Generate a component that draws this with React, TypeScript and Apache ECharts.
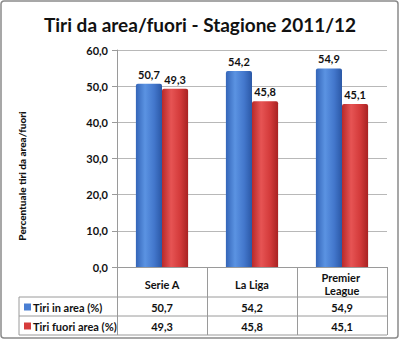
import React, { useEffect, useRef } from "react";
import * as echarts from "echarts";

const title = "Tiri da area/fuori - Stagione 2011/12";
const yAxisTitle = "Percentuale tiri da area/fuori";
const categories = ["Serie A", "La Liga", "Premier League"];
const seriesNames = ["Tiri in area (%)", "Tiri fuori area (%)"];
const inArea = [50.7, 54.2, 54.9];
const fuoriArea = [49.3, 45.8, 45.1];
const yTicks = { min: 0, max: 60, interval: 10 };

const FONT = "Lato";
const fmt = (v: number) => v.toFixed(1).replace(".", ",");

const GRID_L = 117;
const GRID_R = 387;
const GRID_T = 50;
const GRID_B = 267;
const ROW1 = 297;
const ROW2 = 316;
const ROW3 = 335;
const TABLE_L = 19;

const blueGrad = new echarts.graphic.LinearGradient(0, 0, 1, 0, [
  { offset: 0, color: "#3465b8" },
  { offset: 0.35, color: "#5b93e2" },
  { offset: 0.7, color: "#4377cc" },
  { offset: 1, color: "#2b58a6" },
]);
const redGrad = new echarts.graphic.LinearGradient(0, 0, 1, 0, [
  { offset: 0, color: "#b82a2a" },
  { offset: 0.35, color: "#e65454" },
  { offset: 0.7, color: "#d33a3a" },
  { offset: 1, color: "#a82222" },
]);
const solid = ["#4a7fd3", "#d63c3c"];

export default function App() {
  const ref = useRef<HTMLDivElement>(null);
  useEffect(() => {
    document.body.style.margin = "0";
    const chart = echarts.init(ref.current!, null, { renderer: "svg" });
    const labelStyle = {
      show: true,
      position: "top" as const,
      distance: 4,
      fontFamily: FONT,
      fontWeight: "bold" as const,
      fontSize: 11,
      color: "#111",
      formatter: (p: any) => fmt(p.value),
    };
    chart.setOption({
      animation: false,
      backgroundColor: "#fff",
      title: {
        text: title,
        left: "center",
        top: 10,
        textStyle: { fontFamily: FONT, fontWeight: "bold", fontSize: 19, color: "#111" },
      },
      grid: { left: GRID_L, right: 400 - GRID_R, top: GRID_T, bottom: 340 - GRID_B, containLabel: false },
      xAxis: {
        type: "category",
        data: categories,
        axisLine: { lineStyle: { color: "#9a9a9a", width: 1 } },
        axisTick: { show: true, length: ROW3 - GRID_B, lineStyle: { color: "#9a9a9a" } },
        axisLabel: {
          interval: 0,
          margin: 17,
          verticalAlign: "middle",
          width: 70,
          overflow: "break",
          lineHeight: 12.5,
          fontFamily: FONT,
          fontWeight: "bold",
          fontSize: 11,
          color: "#111",
        },
      },
      yAxis: {
        type: "value",
        min: yTicks.min,
        max: yTicks.max,
        interval: yTicks.interval,
        axisLine: { show: true, lineStyle: { color: "#9a9a9a" } },
        axisTick: { show: true, inside: false, length: 5, lineStyle: { color: "#9a9a9a" } },
        axisLabel: {
          margin: 9,
          fontFamily: FONT,
          fontWeight: "bold",
          fontSize: 11,
          color: "#111",
          formatter: (v: number) => fmt(v),
        },
        splitLine: { lineStyle: { color: "#b8b8b8" } },
      },
      series: [
        {
          name: seriesNames[0],
          type: "bar",
          data: inArea,
          barGap: "0%",
          barCategoryGap: "42%",
          itemStyle: { color: blueGrad, borderRadius: [2, 2, 0, 0] },
          label: labelStyle,
        },
        {
          name: seriesNames[1],
          type: "bar",
          data: fuoriArea,
          itemStyle: { color: redGrad, borderRadius: [2, 2, 0, 0] },
          label: labelStyle,
        },
      ],
    });

    const rows = [inArea, fuoriArea];
    const rowTops = [ROW1, ROW2];
    const els: any[] = [
      {
        type: "rect",
        shape: { x: 1, y: 1, width: 397, height: 337, r: 3 },
        style: { fill: "none", stroke: "#8a8a8a", lineWidth: 1.5 },
        silent: true,
      },
      {
        type: "text",
        x: 22,
        y: 176,
        rotation: Math.PI / 2,
        style: {
          text: yAxisTitle,
          fontFamily: FONT,
          fontWeight: 900,
          fontSize: 10,
          fill: "#111",
          textAlign: "center",
          textVerticalAlign: "middle",
        },
      },
    ];
    [ROW1, ROW2, ROW3].forEach((y) =>
      els.push({
        type: "line",
        shape: { x1: TABLE_L, y1: y, x2: GRID_R, y2: y },
        style: { stroke: "#9a9a9a", lineWidth: 1 },
      })
    );
    els.push({
      type: "line",
      shape: { x1: TABLE_L, y1: ROW1, x2: TABLE_L, y2: ROW3 },
      style: { stroke: "#9a9a9a", lineWidth: 1 },
    });
    rows.forEach((vals, ri) => {
      const cy = rowTops[ri] + (ROW2 - ROW1) / 2 + 0.5;
      els.push({
        type: "rect",
        shape: { x: 24, y: cy - 3.5, width: 7, height: 7 },
        style: { fill: solid[ri] },
      });
      els.push({
        type: "text",
        x: 33,
        y: cy,
        style: {
          text: seriesNames[ri],
          fontFamily: FONT,
          fontWeight: "bold",
          fontSize: 11,
          fill: "#111",
          textVerticalAlign: "middle",
        },
      });
      vals.forEach((v, ci) => {
        const x = chart.convertToPixel({ xAxisIndex: 0 }, categories[ci]) as number;
        els.push({
          type: "text",
          x,
          y: cy,
          style: {
            text: fmt(v),
            fontFamily: FONT,
            fontWeight: "bold",
            fontSize: 11,
            fill: "#111",
            textAlign: "center",
            textVerticalAlign: "middle",
          },
        });
      });
    });
    chart.setOption({ graphic: els });
    return () => chart.dispose();
  }, []);
  return <div ref={ref} style={{ position: "fixed", left: 0, top: 0, width: 400, height: 340 }} />;
}
